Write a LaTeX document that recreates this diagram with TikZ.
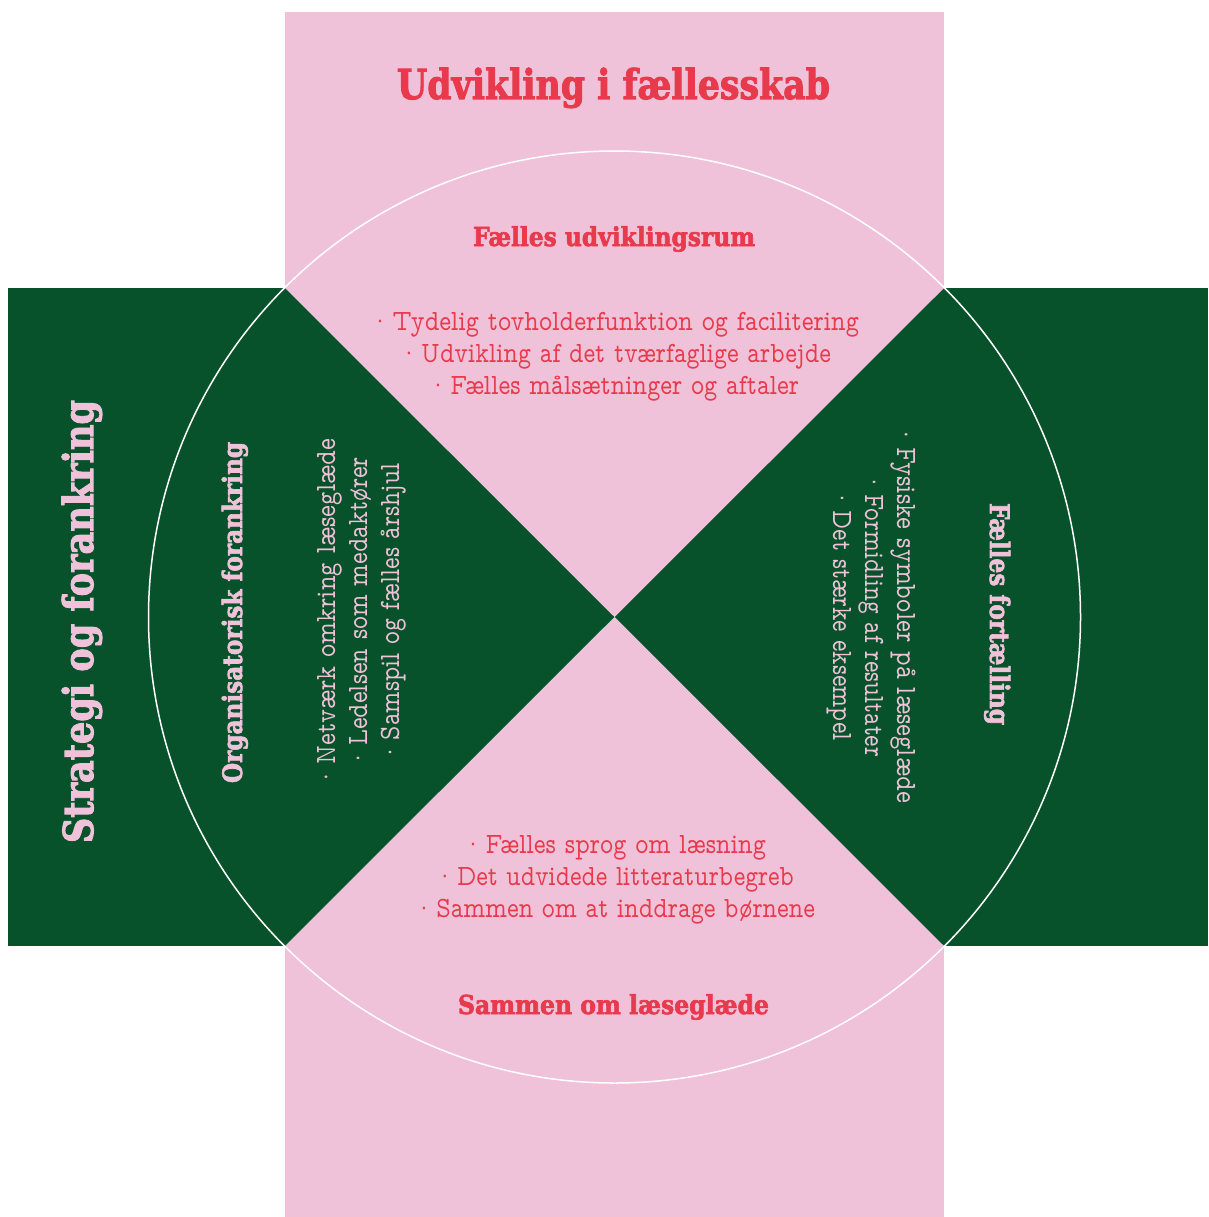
\documentclass[tikz,border=0pt]{standalone}
\usepackage{fontspec}
\usepackage{graphicx}
\newfontfamily\headfont{DejaVu Serif}[BoldFeatures={FakeBold=2.5}]
\newcommand\bodyfont{\fontfamily{lmvtt}\fontseries{m}\selectfont}
\definecolor{bandpink}{RGB}{239,194,218}
\definecolor{deepgreen}{RGB}{8,82,43}
\definecolor{accentred}{RGB}{232,58,76}
\newcommand\fitt[3]{\resizebox{#1pt}{#2pt}{\raisebox{0pt}[\fontcharht\font`\l][0pt]{#3}}}
\newcommand\bul{·\kern0.08em}
\tikzset{
  headtxt/.style={font=\headfont\bfseries, inner sep=0pt, anchor=base},
  bodytxt/.style={font=\bodyfont, inner sep=0pt, anchor=base},
  onpink/.style={text=accentred},
  ongreen/.style={text=bandpink},
}
\begin{document}
\begin{tikzpicture}[x=1pt,y=-1pt]
\fill[white] (0,0) rectangle (1208,1217);
\path[use as bounding box] (0,0) rectangle (1208,1217);
% bands
\fill[bandpink] (285,12) rectangle (944,1217);
\fill[deepgreen] (8,288) rectangle (1208,946);
\coordinate (c) at (614.5,617);
\coordinate (tl) at (285,288);
\coordinate (tr) at (944,288);
\coordinate (bl) at (285,946);
\coordinate (br) at (944,946);
\fill[bandpink] (tl) -- (tr) -- (c) -- cycle;
\fill[bandpink] (bl) -- (br) -- (c) -- cycle;
\draw[white, line width=1.5pt] (c) circle[radius=466pt];

% top
\node[headtxt, onpink] (title) at (613.5,99) {\fitt{433}{30}{Udvikling i fællesskab}};
\node[headtxt, onpink] (tophead) at (614,246) {\fitt{282}{19}{Fælles udviklingsrum}};
\node[bodytxt, onpink] (top1) at (614.5,330) {\fitt{489}{18}{\bul Tydelig tovholderfunktion og facilitering}};
\node[bodytxt, onpink] (top2) at (615,362) {\fitt{432}{18}{\bul Udvikling af det tværfaglige arbejde}};
\node[bodytxt, onpink] (top3) at (613.5,394) {\fitt{371}{18}{\bul Fælles målsætninger og aftaler}};

% bottom
\node[bodytxt, onpink] (bot1) at (614.5,853) {\fitt{303}{18}{\bul Fælles sprog om læsning}};
\node[bodytxt, onpink] (bot2) at (614.5,885) {\fitt{359}{18}{\bul Det udvidede litteraturbegreb}};
\node[bodytxt, onpink] (bot3) at (614.5,917) {\fitt{401}{18}{\bul Sammen om at inddrage børnene}};
\node[headtxt, onpink] (bothead) at (613.5,1014) {\fitt{311}{19}{Sammen om læseglæde}};

% left
\node[headtxt, ongreen, rotate=90] (strat) at (93,621.5) {\fitt{443}{30}{Strategi og forankring}};
\node[headtxt, ongreen, rotate=90] (lefthead) at (242,612.5) {\fitt{341}{19.5}{Organisatorisk forankring}};
\node[bodytxt, ongreen, rotate=90] (left1) at (335,613) {\fitt{348}{18}{\bul Netværk omkring læseglæde}};
\node[bodytxt, ongreen, rotate=90] (left2) at (367,612.5) {\fitt{311}{18}{\bul Ledelsen som medaktører}};
\node[bodytxt, ongreen, rotate=90] (left3) at (399,612.5) {\fitt{299}{18}{\bul Samspil og fælles årshjul}};

% right
\node[headtxt, ongreen, rotate=-90] (righthead) at (990,614) {\fitt{222}{19.5}{Fælles fortælling}};
\node[bodytxt, ongreen, rotate=-90] (right1) at (897,614) {\fitt{378}{18}{\bul Fysiske symboler på læseglæde}};
\node[bodytxt, ongreen, rotate=-90] (right2) at (865,615) {\fitt{284}{18}{\bul Formidling af resultater}};
\node[bodytxt, ongreen, rotate=-90] (right3) at (833,615) {\fitt{252}{18}{\bul Det stærke eksempel}};
\end{tikzpicture}
\end{document}
